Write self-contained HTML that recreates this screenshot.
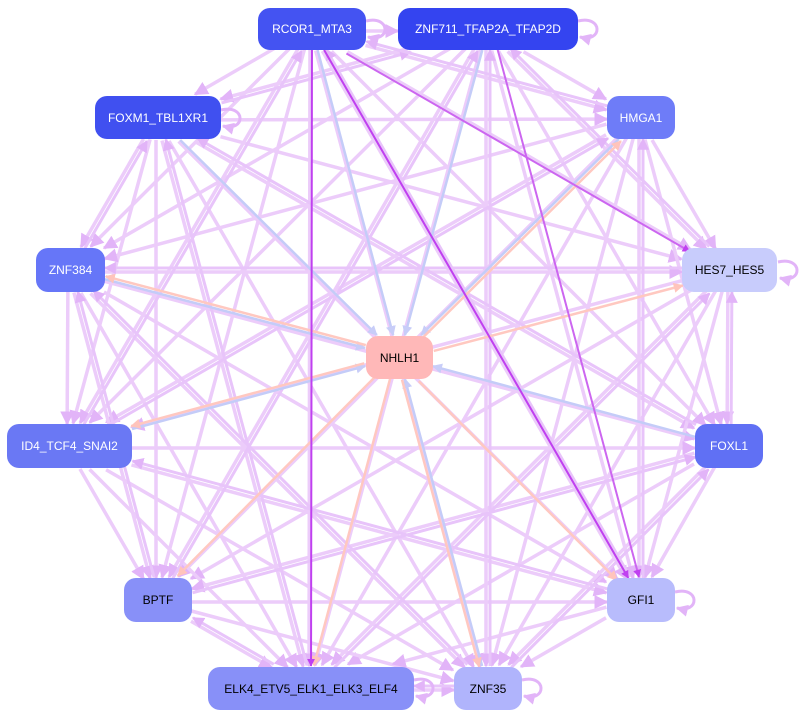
<!DOCTYPE html>
<html><head><meta charset="utf-8"><style>
body{margin:0;background:#fff;width:808px;height:718px;overflow:hidden}
svg{position:absolute;left:0;top:0}
.n{position:absolute;border-radius:12px;font:12px "Liberation Sans",sans-serif;display:flex;align-items:center;justify-content:center;color:#fff}
</style></head><body>
<svg id="s" width="808" height="718" xmlns="http://www.w3.org/2000/svg">
<defs>
<marker id="a" viewBox="0 0 10 10" refX="9" refY="5" markerWidth="4" markerHeight="4" orient="auto"><path d="M0,0L10,5L0,10z" fill="#e2b4f8"/></marker>
<marker id="b" viewBox="0 0 10 10" refX="9" refY="5" markerWidth="4" markerHeight="4" orient="auto"><path d="M0,0L10,5L0,10z" fill="#c8cdf8"/></marker>
<marker id="c" viewBox="0 0 10 10" refX="9" refY="5" markerWidth="4" markerHeight="4" orient="auto"><path d="M0,0L10,5L0,10z" fill="#ffc4bc"/></marker>
<marker id="d" viewBox="0 0 10 10" refX="9" refY="5" markerWidth="4" markerHeight="4" orient="auto"><path d="M0,0L10,5L0,10z" fill="#c040f0"/></marker>
</defs>
<g id="g"></g>
</svg>
<div class="n" style="left:258px;top:8px;width:108px;height:42px;background:#4453f2">RCOR1_MTA3</div>
<div class="n" style="left:398px;top:8px;width:180px;height:42px;background:#3444f0">ZNF711_TFAP2A_TFAP2D</div>
<div class="n" style="left:95px;top:96px;width:126px;height:43px;background:#4050f0">FOXM1_TBL1XR1</div>
<div class="n" style="left:607px;top:96px;width:68px;height:43px;background:#6e7cf8">HMGA1</div>
<div class="n" style="left:36px;top:248px;width:69px;height:44px;background:#6676f8">ZNF384</div>
<div class="n" style="left:682px;top:248px;width:95px;height:44px;background:#c8ccfc;color:#000">HES7_HES5</div>
<div class="n" style="left:366px;top:336px;width:67px;height:43px;background:#ffb8b8;color:#000">NHLH1</div>
<div class="n" style="left:7px;top:424px;width:125px;height:44px;background:#6a78f4">ID4_TCF4_SNAI2</div>
<div class="n" style="left:695px;top:424px;width:68px;height:44px;background:#6070f4">FOXL1</div>
<div class="n" style="left:124px;top:578px;width:68px;height:44px;background:#8890f8;color:#000">BPTF</div>
<div class="n" style="left:607px;top:578px;width:68px;height:44px;background:#b8bcfc;color:#000">GFI1</div>
<div class="n" style="left:208px;top:667px;width:206px;height:43px;background:#8890f8;color:#000">ELK4_ETV5_ELK1_ELK3_ELF4</div>
<div class="n" style="left:454px;top:667px;width:68px;height:43px;background:#b0b4fc;color:#000">ZNF35</div>
<script>
var N={R:[312,29,54,21],Z:[488,29,90,21],F:[158,118,63,22],H:[641,117,34,22],Z3:[70,270,35,22],HE:[730,270,48,22],N:[399,357,34,22],I:[69,446,63,22],FL:[729,446,34,22],B:[158,600,34,22],G:[641,600,34,22],E:[311,688,103,22],Z5:[488,688,34,22]};
var g=document.getElementById('g'),ns='http://www.w3.org/2000/svg';
function edge(p,q,col,m,w,off){var a=N[p],b=N[q];var dx=b[0]-a[0],dy=b[1]-a[1];off=off||0;
var L=Math.hypot(dx,dy),ox=-dy/L*off,oy=dx/L*off;
function cut(n){return Math.min(n[2]/Math.abs(dx||1e-9),n[3]/Math.abs(dy||1e-9));}
var t1=cut(a),t2=cut(b);
var l=document.createElementNS(ns,'line');
l.setAttribute('x1',a[0]+dx*t1+ox);l.setAttribute('y1',a[1]+dy*t1+oy);
l.setAttribute('x2',b[0]-dx*t2+ox);l.setAttribute('y2',b[1]-dy*t2+oy);
l.setAttribute('stroke',col);l.setAttribute('stroke-width',w||3.5);l.setAttribute('marker-end','url(#'+m+')');g.appendChild(l);}
var k=Object.keys(N).filter(x=>x!='N');
for(var i=0;i<k.length;i++)for(var j=0;j<k.length;j++){if(i<j)edge(k[i],k[j],'#ecccfa','a',3.5,2);else if(i>j&&(i+j)%3==0)edge(k[i],k[j],'#e8c4fa','a',3,2);}
['R','Z','F','H','FL','Z5','I','Z3'].forEach(x=>edge(x,'N','#c4ccf8','b',2.5));
['HE','H','I','B','G','Z5','E','Z3'].forEach(x=>edge('N',x,'#ffc8c0','c',2.5,3));
edge('R','G','#c040f0','d',2);edge('R','E','#c040f0','d',2);edge('Z','G','#cc66f0','d',2,-4);edge('R','HE','#cc66f0','d',2,4);
[['R'],['Z'],['F'],['HE'],['G'],['Z5'],['E']].forEach(function(x){var n=N[x[0]];var p=document.createElementNS(ns,'path');var X=n[0]+n[2],Y=n[1];
p.setAttribute('d','M'+X+','+(Y-8)+' C'+(X+25)+','+(Y-14)+' '+(X+25)+','+(Y+14)+' '+(X+2)+','+(Y+8));p.setAttribute('fill','none');p.setAttribute('stroke','#e2b4f8');p.setAttribute('stroke-width',3);p.setAttribute('marker-end','url(#a)');g.appendChild(p);});
</script>
</body></html>
